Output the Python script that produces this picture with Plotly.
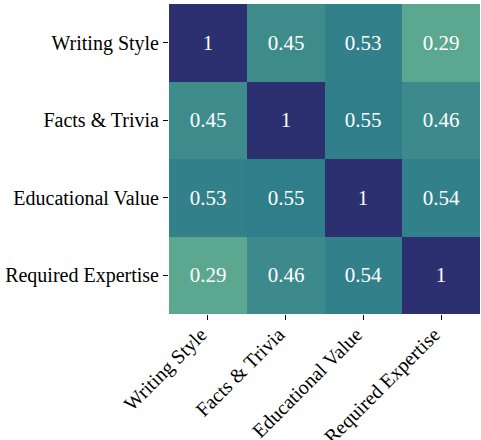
import plotly.graph_objects as go

labels = ["Writing Style", "Facts & Trivia", "Educational Value", "Required Expertise"]
corr = [
    [1.00, 0.45, 0.53, 0.29],
    [0.45, 1.00, 0.55, 0.46],
    [0.53, 0.55, 1.00, 0.54],
    [0.29, 0.46, 0.54, 1.00],
]
text = [[("1" if v == 1 else f"{v:.2f}") for v in row] for row in corr]

crest = [
    [0.0, "#a5cd90"],
    [0.29, "#5ca790"],
    [0.45, "#3e8b8c"],
    [0.55, "#2f7f8a"],
    [0.8, "#29578a"],
    [1.0, "#2d3070"],
]

fig = go.Figure(go.Heatmap(
    z=corr, x=labels, y=labels,
    text=text, texttemplate="%{text}",
    textfont=dict(family="Liberation Serif", size=21, color="white"),
    colorscale=crest, zmin=0, zmax=1, showscale=False, xgap=0, ygap=0,
))
fig.update_layout(
    width=481, height=440,
    margin=dict(l=169, r=1, t=4, b=126),
    paper_bgcolor="white", plot_bgcolor="white",
    font=dict(family="Liberation Serif", size=20, color="black"),
)
fig.update_xaxes(tickangle=-45, ticks="outside", ticklen=5, tickcolor="black",
                 ticklabelshift=-7, ticklabelstandoff=-5,
                 showgrid=False, zeroline=False, showline=False, automargin=False)
fig.update_yaxes(autorange="reversed", ticks="outside", ticklen=5, tickcolor="black",
                 showgrid=False, zeroline=False, showline=False, automargin=False)
fig.write_html("out.html", config={"displayModeBar": False},
               post_script="document.body.style.margin='0';document.body.style.overflow='hidden';")
